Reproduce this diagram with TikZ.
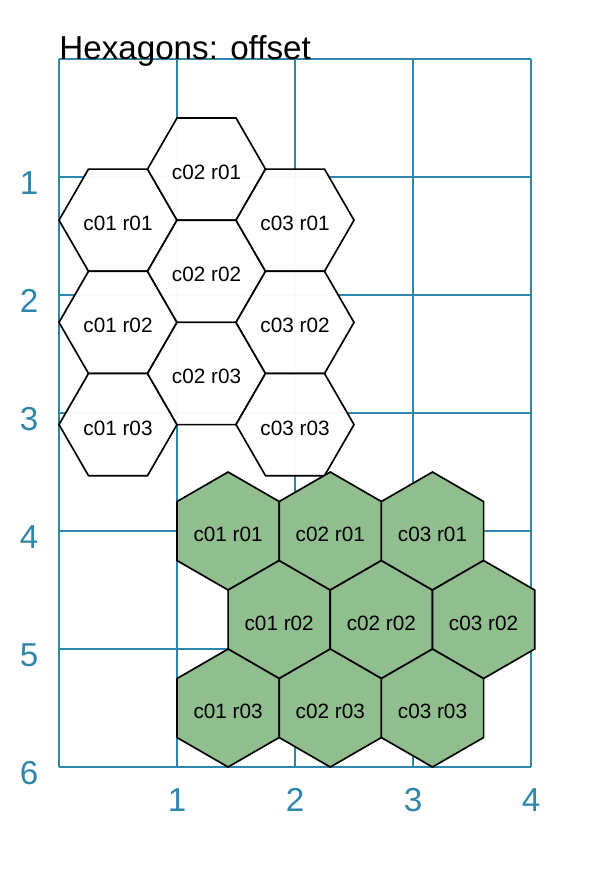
\documentclass[tikz,border=0pt]{standalone}
\usepackage{fontspec}
\setmainfont{Liberation Sans}
\usetikzlibrary{shapes.geometric}
\definecolor{gridblue}{RGB}{46,134,171}
\definecolor{hexgreen}{RGB}{145,190,143}
\tikzset{hexflat/.style={regular polygon,regular polygon sides=6,draw,line width=0.8pt,minimum size=2cm,inner sep=0pt,text height=10.1pt,text depth=0pt,font=\fontsize{10}{12}\selectfont},
  hexwhite/.style={hexflat,fill=white,fill opacity=0.97,text opacity=1},
  hexpoint/.style={hexflat,shape border rotate=30,fill=hexgreen},
  axlbl/.style={text=gridblue,font=\fontsize{16}{19}\selectfont,inner sep=0pt}}

\begin{document}
\begin{tikzpicture}[x=2cm,y=-2cm]
        \useasboundingbox (-0.5,-0.5) rectangle (4.695,6.915);
        % grid
        \foreach \k in {0,...,4} \draw[gridblue,line width=0.7pt] (\k,0) -- (\k,6);
        \foreach \k in {0,...,6} \draw[gridblue,line width=0.7pt] (0,\k) -- (4,\k);
        \node[anchor=base west,inner sep=0pt,font=\fontsize{16}{19}\selectfont] (title) at (0,0) {Hexagons: offset};
        \foreach \k in {1,...,6} \node[axlbl] (ylbl\k) at (-0.254,\k+0.05) {\k};
        \foreach \k in {1,...,4} \node[axlbl] (xlbl\k) at (\k,6.28) {\k};

        % flat hexagons, even columns shifted up
        \foreach \c in {1,2,3}
          \foreach \r in {1,2,3} {
            \pgfmathsetmacro\cx{0.5+0.75*(\c-1)}
            \pgfmathsetmacro\cy{1.366+0.866*(\r-1)-0.433*mod(\c+1,2)}
            \node[hexwhite] (w\c\r) at (\cx,\cy) {c0\c\ r0\r};
          }

        % pointy hexagons, even rows shifted right
        \foreach \c in {1,2,3}
          \foreach \r in {1,2,3} {
            \pgfmathsetmacro\cx{1.433+0.866*(\c-1)+0.433*mod(\r+1,2)}
            \pgfmathsetmacro\cy{4+0.75*(\r-1)}
            \node[hexpoint] (g\c\r) at (\cx,\cy) {c0\c\ r0\r};
          }
    \end{tikzpicture}
\end{document}
